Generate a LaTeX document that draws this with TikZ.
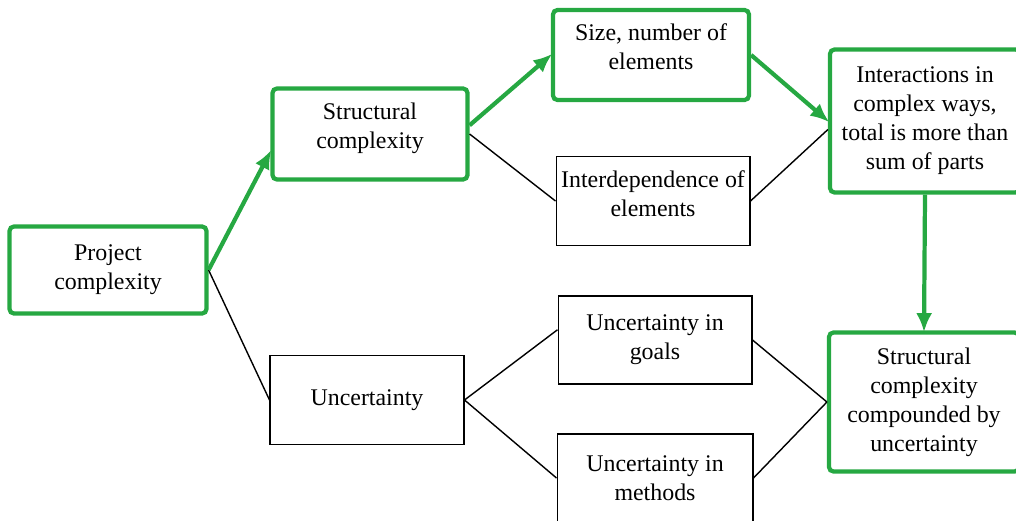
\documentclass[tikz,border=0pt]{standalone}
\usepackage{fontspec}
\setmainfont{Liberation Serif}
\usetikzlibrary{arrows.meta,positioning}
\definecolor{hlgreen}{RGB}{38,168,66}
\tikzset{
    box/.style={draw, line width=0.6pt, align=center, inner sep=2pt,
        font=\fontsize{13.6}{16.5}\selectfont},
    hl/.style={box, draw=hlgreen, line width=2.4pt, rounded corners=2.5pt},
    link/.style={line width=0.8pt},
    hllink/.style={draw=hlgreen, line width=2.4pt,
        -{Latex[length=3.8mm,width=3.2mm]}, shorten >=-1pt},
}
\begin{document}
\begin{tikzpicture}[x=0.02cm, y=-0.02cm]
    \useasboundingbox (0, 0) rectangle (1016, 520);

    \node [hl,  minimum width=3.94cm, minimum height=1.74cm] (proj)    at (108, 270) {Project\\complexity};
    \node [hl,  minimum width=3.90cm, minimum height=1.82cm, text depth=0.34cm] (struct) at (370, 134) {Structural\\complexity};
    \node [box, minimum width=3.88cm, minimum height=1.78cm] (unc)     at (367, 400) {Uncertainty};
    \node [hl,  minimum width=3.92cm, minimum height=1.80cm, text depth=0.32cm] (size)   at (651, 55)  {Size, number of\\elements};
    \node [box, minimum width=3.88cm, minimum height=1.78cm, text depth=0.28cm] (interd) at (653, 201) {Interdependence of\\elements};
    \node [box, minimum width=3.88cm, minimum height=1.76cm] (goals)   at (655, 340) {Uncertainty in\\goals};
    \node [box, minimum width=3.92cm, minimum height=1.76cm] (methods) at (655, 478) {Uncertainty in\\methods};
    \node [hl,  minimum width=3.80cm, minimum height=2.86cm] (inter)   at (925, 121) {Interactions in\\complex ways,\\total is more than\\sum of parts};
    \node [hl,  minimum width=3.80cm, minimum height=2.78cm] (comp)    at (924, 402) {Structural\\complexity\\compounded by\\uncertainty};

    \foreach \from/\to in {proj.east/unc.west, struct.east/interd.west, interd.east/inter.185,
                           unc.east/goals.174, unc.east/methods.west,
                           goals.east/comp.west, methods.east/comp.west} {
        \draw [link] (\from) -- (\to);
        }

    \foreach \from/\to in {proj.east/struct.190, struct.5/size.west, size.east/inter.west,
                           inter.south/comp.north} {
        \draw [hllink] (\from) -- (\to);
        }
\end{tikzpicture}
\end{document}
